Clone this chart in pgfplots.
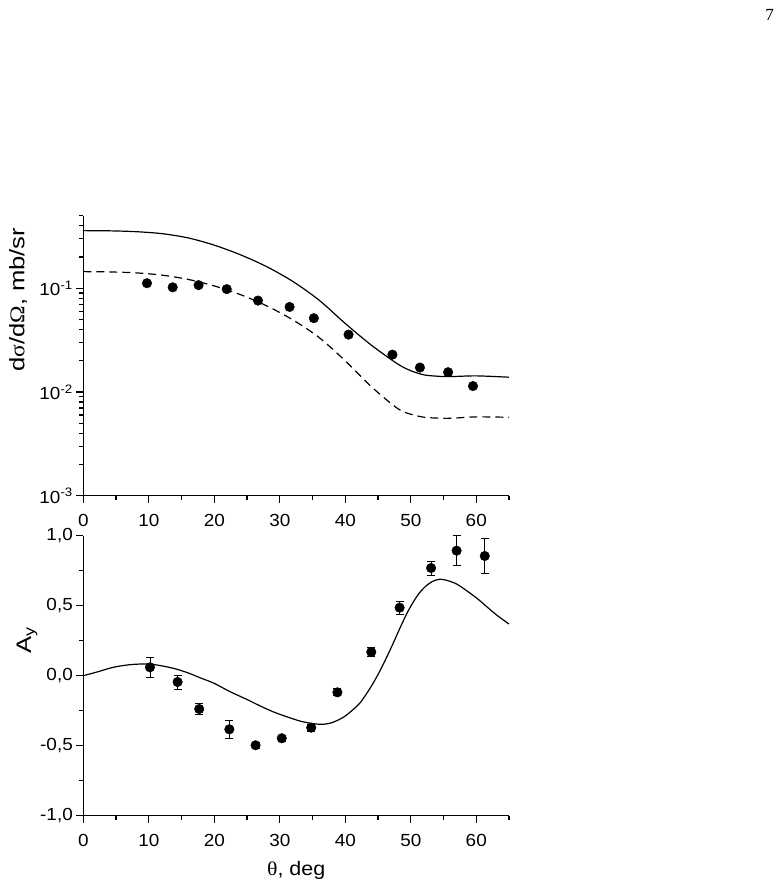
\documentclass[border=0pt]{standalone}
\usepackage{fontspec}
\setmainfont{Liberation Sans}[FakeStretch=1.08]
\newfontfamily\grk{Liberation Serif}[FakeStretch=1.12]
\newfontfamily\lblfont{Liberation Sans}[FakeStretch=1.1]
\newfontfamily\ylblfont{Liberation Sans}[FakeStretch=1.22]
\newfontfamily\pagefont{Liberation Serif}
\usepackage{pgfplots}
\pgfplotsset{compat=1.18}

% Cross section: data and the two calculations (log scale)
\pgfplotstableread{
theta  xs
9.72   0.1117
13.65  0.102
17.6   0.107
21.9   0.098
26.67  0.076
31.5   0.066
35.2   0.0514
40.5   0.0357
47.2   0.0229
51.4   0.0172
55.7   0.0155
59.5   0.0114
}\xsdata

\pgfplotstableread{
theta  xs
0      0.3589
4      0.3573
8      0.3508
12     0.3357
16     0.3055
20     0.2600
24     0.2099
28     0.1614
32     0.1161
36     0.07674
40     0.04571
44     0.02818
48     0.01862
50     0.01603
52     0.01462
54     0.01419
56     0.01406
60     0.01429
65     0.01387
}\xsfull

\pgfplotstableread{
theta  xs
0      0.1445
4      0.1435
8      0.1406
12     0.1337
16     0.1216
20     0.1052
24     0.0867
28     0.0676
32     0.0495
36     0.0335
40     0.01995
44     0.01122
48     0.00692
50     0.00610
52     0.00571
54     0.00560
56     0.00557
60     0.00575
65     0.00570
}\xsdash

% Analyzing power: data with errors and the calculation
\pgfplotstableread{
theta  ay      err
10.18  0.060   0.070
14.4   -0.045  0.050
17.7   -0.238  0.040
22.3   -0.383  0.062
26.3   -0.497  0.020
30.3   -0.447  0.020
34.8   -0.371  0.025
38.8   -0.119  0.025
43.97  0.169   0.030
48.3   0.486   0.045
53.1   0.769   0.050
57.0   0.893   0.108
61.3   0.855   0.124
}\aydata

\pgfplotstableread{
theta  ay
0      0
2      0.025
4.58   0.060
7      0.078
9.16   0.0836
11     0.078
13.74  0.053
16     0.020
17.8   -0.014
20     -0.055
22.4   -0.114
25     -0.170
27     -0.216
29     -0.258
31.05  -0.293
33.1   -0.324
35     -0.342
36.6   -0.347
38     -0.335
39.7   -0.297
41     -0.250
42.2   -0.197
43.3   -0.125
44.3   -0.050
45.3   0.035
46.3   0.130
47.3   0.230
48.3   0.335
49.3   0.435
50.3   0.520
51.3   0.590
52.3   0.640
53.3   0.673
54.4   0.689
55.5   0.681
57.0   0.655
58.5   0.608
60.1   0.553
61.5   0.497
63.1   0.434
65     0.369
}\aycalc

\pgfplotsset{
  panel/.style={
    scale only axis, width=425.7pt, height=280pt,
    axis lines=left, axis line style={-, line width=1.4pt},
    tick align=outside, major tick length=7pt, minor tick length=4.5pt,
    every tick/.style={black, line width=1.2pt},
    xmin=0, xmax=65, xtick={0,10,...,60}, minor xtick={5,15,...,65},
    tick label style={font=\fontsize{17.5}{19}\selectfont},
    xticklabel style={yshift=-8pt},
    /pgf/number format/assume math mode=true,
    clip=false,
  },
  dots/.style={only marks, mark=*, mark size=4.8pt, black},
  calc/.style={black, line width=1.2pt, smooth, no marks},
}

\begin{document}
\begin{tikzpicture}
\useasboundingbox (0,0) rectangle (782pt,890pt);
\node[font=\pagefont\fontsize{17}{18}\selectfont] at (769.5pt,875pt) {7};

\begin{axis}[panel, at={(83.3pt,394.3pt)}, anchor=south west,
  ymode=log, log basis y=10, ymin=1e-3, ymax=0.5,
  yticklabel={\pgfmathparse{int(round(\tick))}10\textsuperscript{\pgfmathresult}},
  ylabel={d{\grk σ}/d{\grk Ω}, mb/sr},
  ylabel style={font=\ylblfont\fontsize{21}{23}\selectfont,
    at={(axis description cs:-0.153,0.70)}, anchor=center}]
\addplot[calc] table[x=theta, y=xs] {\xsfull};
\addplot[calc, dash pattern=on 8pt off 5pt] table[x=theta, y=xs] {\xsdash};
\addplot[dots] table[x=theta, y=xs] {\xsdata};
\end{axis}

\begin{axis}[panel, at={(83.3pt,74.3pt)}, anchor=south west,
  ymin=-1, ymax=1, ytick={-1,-0.5,0,0.5,1}, minor ytick={-0.75,-0.25,0.25,0.75},
  yticklabel style={/pgf/number format/.cd, fixed, fixed zerofill, precision=1, use comma},
  xlabel={{\grk θ}, deg},
  xlabel style={font=\lblfont\fontsize{19.5}{21}\selectfont,
    at={(axis description cs:0.5,-0.196)}, anchor=center},
  ylabel={A\textsubscript{y}},
  ylabel style={font=\ylblfont\fontsize{21}{23}\selectfont,
    at={(axis description cs:-0.132,0.627)}, anchor=center}]
\addplot[calc] table[x=theta, y=ay] {\aycalc};
\addplot[dots, error bars/.cd, y dir=both, y explicit,
  error bar style={line width=0.9pt},
  error mark options={rotate=90, mark size=4pt, line width=0.9pt}]
  table[x=theta, y=ay, y error=err] {\aydata};
\end{axis}
\end{tikzpicture}
\end{document}
